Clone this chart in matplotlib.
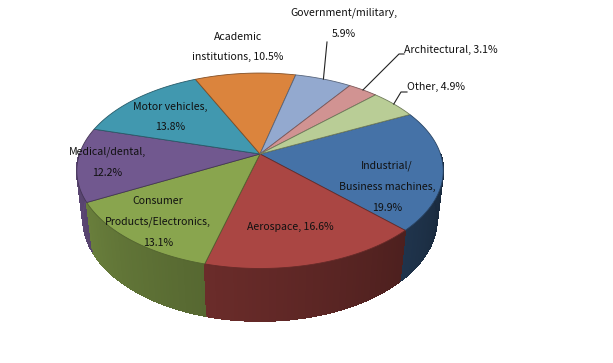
import numpy as np
import matplotlib.pyplot as plt
from matplotlib.patches import Polygon
from matplotlib.colors import to_rgb

# data (slices in clockwise order, starting right of 12 o'clock)
categories = ['Industrial/Business machines', 'Aerospace', 'Consumer Products/Electronics',
              'Medical/dental', 'Motor vehicles', 'Academic institutions',
              'Government/military', 'Architectural', 'Other']
shares = [19.9, 16.6, 13.1, 12.2, 13.8, 10.5, 5.9, 3.1, 4.9]
colors = ['#4572A7', '#AA4643', '#89A54E', '#71588F', '#4198AF',
          '#DB843D', '#93A9CF', '#D19392', '#B9CD96']

# how each data label is wrapped
label_names = ['Industrial/\nBusiness machines,', 'Aerospace,', 'Consumer\nProducts/Electronics,',
               'Medical/dental,', 'Motor vehicles,', 'Academic\ninstitutions,',
               'Government/military,', 'Architectural,', 'Other,']
label_seps = ['\n', ' ', '\n', '\n', '\n', ' ', '\n', ' ', ' ']

# label placement (pixels) and alignment
label_pos = [(387, 187), (290, 227), (158, 222), (107, 162), (170, 117),
             (238, 47), (344, 23), (404, 50), (407, 87)]
label_ha = ['center'] * 7 + ['left', 'left']
# leader line elbows for the small slices: {index: [(x, y), ...]}
leaders = {6: [(327, 42)], 7: [(399, 54), (404, 54)], 8: [(401, 92), (407, 92)]}

# 3d view of the pie
cx, cy = 260, 154
elev = np.radians(31.7)
dist = 4.96
focal = 180.5 * dist
height = 0.32
start = -26.6  # degrees, 0 = right, growing clockwise


def project(theta, z=0.0, r=1.0):
    x = r * np.cos(theta)
    y = r * np.sin(theta)
    depth = dist - y * np.cos(elev) - z * np.sin(elev)
    u = focal * x / depth
    v = focal * (-y * np.sin(elev) + z * np.cos(elev)) / depth
    return cx + u, cy - v


def shade(color, k):
    return tuple(np.clip(np.array(to_rgb(color)) * k, 0, 1))


fig = plt.figure(figsize=(6.13, 3.63), dpi=100)
ax = fig.add_axes([0, 0, 1, 1])
ax.set_xlim(0, 613)
ax.set_ylim(363, 0)
ax.axis('off')

bounds = start + 360 * np.concatenate([[0], np.cumsum(shares)]) / sum(shares)

# side walls (front half only), drawn back to front
segs = []
for i, c in enumerate(colors):
    a0, a1 = bounds[i], bounds[i + 1]
    for off in (-360, 0, 360):
        lo, hi = max(a0 + off, 0), min(a1 + off, 180)
        if hi <= lo:
            continue
        edges = np.linspace(lo, hi, int(np.ceil(hi - lo)) + 1)
        for e0, e1 in zip(edges[:-1], edges[1:]):
            segs.append((np.sin(np.radians((e0 + e1) / 2)), e0, e1, c))
segs.sort()
for _, e0, e1, c in segs:
    t = np.radians(np.linspace(e0, e1, 4))
    tx, ty = project(t, 0)
    bx, by = project(t[::-1], -height)
    mid = (e0 + e1) / 2
    k = np.clip(0.38 + (mid - 20) / 160 * 0.47, 0.38, 0.88)
    col = shade(c, k)
    ax.add_patch(Polygon(np.column_stack([np.r_[tx, bx], np.r_[ty, by]]),
                         closed=True, facecolor=col, edgecolor=col, lw=0.6,
                         antialiased=False))
    # smooth outer bottom edge
    ax.plot(bx, by, color=col, lw=0.8, solid_capstyle='butt')

# top faces
for i, c in enumerate(colors):
    t = np.radians(np.linspace(bounds[i], bounds[i + 1], 80))
    px, py = project(t, 0)
    pts = np.column_stack([np.r_[cx, px], np.r_[cy, py]])
    ax.add_patch(Polygon(pts, closed=True, facecolor=c,
                         edgecolor=shade(c, 0.6), lw=0.6, joinstyle='round'))

# data labels
for i in range(len(shares)):
    txt = f'{label_names[i]}{label_seps[i]}{shares[i]}%'
    x, y = label_pos[i]
    ax.text(x, y, txt, ha=label_ha[i], va='center', fontsize=7.6,
            family=['Noto Sans CJK KR', 'DejaVu Sans'],
            color='#111111', linespacing=2.35, multialignment='center')
    if i in leaders:
        mid = np.radians((bounds[i] + bounds[i + 1]) / 2)
        sx, sy = project(mid, 0)
        xs = [sx] + [p[0] for p in leaders[i]]
        ys = [sy] + [p[1] for p in leaders[i]]
        ax.plot(xs, ys, color='#222222', lw=0.8)

fig.savefig('out.png', dpi=100)
